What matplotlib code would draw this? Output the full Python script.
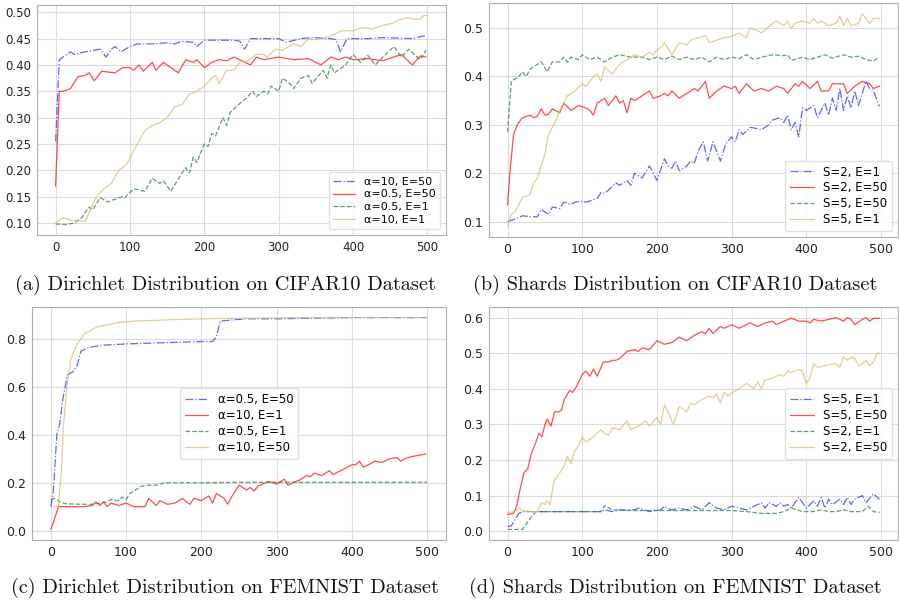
#
########################################################################
# Libraries
########################################################################
#
import matplotlib
matplotlib.use("Agg")
import matplotlib.pyplot as plt

#
########################################################################
# Data (epoch, accuracy)
########################################################################
#
# (a) Dirichlet / CIFAR10
A_Blue_X = [0, 5, 15, 20, 25, 40, 60, 68, 75, 80, 88, 100, 110, 130, 150, 160, 170, 185, 190, 200, 240, 248, 254, 262, 300, 310, 330, 345, 370, 377, 383, 392, 420, 440, 480, 498]
A_Blue_Y = [0.255, 0.41, 0.42, 0.425, 0.42, 0.425, 0.43, 0.415, 0.43, 0.435, 0.425, 0.435, 0.44, 0.44, 0.442, 0.44, 0.445, 0.443, 0.435, 0.447, 0.447, 0.445, 0.43, 0.45, 0.45, 0.443, 0.45, 0.452, 0.45, 0.448, 0.425, 0.45, 0.45, 0.452, 0.45, 0.456]

A_Red_X = [0, 5, 10, 20, 30, 40, 45, 52, 62, 80, 90, 100, 105, 112, 118, 130, 135, 145, 155, 165, 175, 185, 190, 200, 210, 220, 230, 240, 262, 270, 280, 300, 320, 340, 357, 370, 380, 390, 400, 420, 440, 465, 480, 490, 498]
A_Red_Y = [0.17, 0.35, 0.35, 0.355, 0.378, 0.38, 0.385, 0.37, 0.388, 0.385, 0.395, 0.395, 0.39, 0.40, 0.388, 0.405, 0.39, 0.405, 0.395, 0.385, 0.41, 0.405, 0.41, 0.395, 0.405, 0.41, 0.408, 0.415, 0.40, 0.415, 0.41, 0.415, 0.41, 0.412, 0.40, 0.415, 0.41, 0.415, 0.41, 0.412, 0.408, 0.42, 0.40, 0.417, 0.415]

A_Green_X = [0, 15, 25, 35, 45, 50, 60, 70, 80, 90, 93, 105, 120, 130, 140, 145, 155, 170, 175, 180, 185, 190, 200, 205, 210, 215, 225, 230, 235, 250, 255, 265, 270, 280, 285, 290, 300, 305, 315, 320, 330, 340, 345, 360, 365, 370, 375, 380, 390, 400, 410, 420, 430, 440, 455, 465, 475, 490, 498]
A_Green_Y = [0.098, 0.097, 0.10, 0.11, 0.13, 0.125, 0.148, 0.14, 0.145, 0.15, 0.148, 0.165, 0.16, 0.185, 0.175, 0.18, 0.16, 0.195, 0.205, 0.195, 0.225, 0.215, 0.25, 0.245, 0.27, 0.265, 0.30, 0.285, 0.31, 0.33, 0.335, 0.35, 0.34, 0.35, 0.345, 0.36, 0.35, 0.375, 0.365, 0.355, 0.375, 0.38, 0.365, 0.39, 0.375, 0.40, 0.385, 0.39, 0.40, 0.42, 0.405, 0.418, 0.40, 0.415, 0.435, 0.415, 0.43, 0.41, 0.428]

A_Yellow_X = [0, 5, 10, 20, 40, 45, 55, 65, 75, 85, 95, 110, 120, 130, 140, 150, 160, 170, 180, 190, 200, 210, 215, 220, 230, 240, 250, 255, 270, 280, 285, 295, 305, 320, 330, 340, 350, 370, 385, 400, 410, 420, 425, 440, 455, 460, 475, 480, 490, 495, 500]
A_Yellow_Y = [0.10, 0.105, 0.11, 0.105, 0.103, 0.12, 0.15, 0.165, 0.175, 0.20, 0.21, 0.25, 0.275, 0.285, 0.29, 0.30, 0.32, 0.325, 0.345, 0.35, 0.36, 0.375, 0.38, 0.365, 0.39, 0.39, 0.41, 0.405, 0.42, 0.42, 0.415, 0.43, 0.428, 0.44, 0.435, 0.45, 0.448, 0.455, 0.465, 0.465, 0.47, 0.47, 0.468, 0.475, 0.48, 0.485, 0.49, 0.487, 0.487, 0.494, 0.494]

# (b) Shards / CIFAR10
B_Blue_X = [0, 10, 20, 30, 40, 45, 50, 55, 60, 70, 75, 85, 90, 100, 105, 115, 120, 125, 130, 135, 145, 150, 160, 165, 170, 175, 180, 190, 200, 210, 215, 220, 225, 230, 240, 245, 250, 255, 262, 268, 275, 285, 292, 300, 305, 310, 315, 325, 340, 350, 355, 365, 370, 375, 380, 385, 390, 395, 400, 410, 415, 425, 430, 435, 440, 445, 450, 455, 460, 465, 470, 480, 485, 490, 498]
B_Blue_Y = [0.10, 0.105, 0.112, 0.11, 0.11, 0.125, 0.12, 0.115, 0.13, 0.127, 0.14, 0.135, 0.14, 0.142, 0.14, 0.145, 0.148, 0.16, 0.158, 0.165, 0.18, 0.175, 0.185, 0.175, 0.20, 0.195, 0.19, 0.215, 0.185, 0.23, 0.215, 0.21, 0.225, 0.205, 0.215, 0.225, 0.22, 0.245, 0.265, 0.225, 0.265, 0.225, 0.26, 0.275, 0.265, 0.29, 0.28, 0.295, 0.29, 0.30, 0.31, 0.315, 0.305, 0.32, 0.29, 0.305, 0.275, 0.335, 0.33, 0.34, 0.315, 0.345, 0.32, 0.355, 0.33, 0.375, 0.33, 0.36, 0.335, 0.37, 0.34, 0.39, 0.375, 0.37, 0.338]

B_Red_X = [0, 3, 8, 13, 20, 30, 35, 40, 45, 50, 55, 60, 70, 75, 85, 95, 105, 110, 115, 120, 130, 135, 145, 150, 155, 160, 165, 170, 180, 190, 195, 205, 210, 215, 220, 230, 240, 250, 255, 265, 270, 280, 290, 300, 305, 310, 320, 330, 340, 350, 360, 370, 375, 385, 390, 395, 405, 415, 420, 430, 435, 450, 455, 465, 475, 485, 490, 498]
B_Red_Y = [0.135, 0.20, 0.28, 0.30, 0.315, 0.32, 0.315, 0.318, 0.333, 0.32, 0.322, 0.333, 0.325, 0.345, 0.33, 0.34, 0.335, 0.33, 0.32, 0.345, 0.355, 0.34, 0.36, 0.345, 0.35, 0.325, 0.355, 0.35, 0.36, 0.37, 0.355, 0.36, 0.365, 0.36, 0.37, 0.355, 0.365, 0.375, 0.37, 0.39, 0.355, 0.37, 0.38, 0.375, 0.38, 0.365, 0.385, 0.37, 0.375, 0.37, 0.38, 0.375, 0.365, 0.385, 0.38, 0.39, 0.375, 0.39, 0.37, 0.37, 0.385, 0.385, 0.365, 0.38, 0.39, 0.385, 0.375, 0.38]

B_Green_X = [0, 5, 10, 15, 20, 25, 30, 40, 45, 53, 60, 70, 75, 80, 85, 95, 100, 110, 120, 130, 140, 150, 165, 180, 190, 200, 210, 220, 230, 240, 250, 260, 270, 280, 290, 300, 310, 320, 330, 340, 355, 370, 375, 380, 395, 405, 415, 425, 435, 450, 460, 470, 480, 490, 498]
B_Green_Y = [0.285, 0.39, 0.395, 0.40, 0.41, 0.40, 0.415, 0.425, 0.43, 0.41, 0.43, 0.43, 0.44, 0.43, 0.44, 0.435, 0.445, 0.435, 0.44, 0.43, 0.44, 0.445, 0.44, 0.44, 0.435, 0.44, 0.435, 0.442, 0.435, 0.44, 0.435, 0.44, 0.43, 0.44, 0.435, 0.44, 0.437, 0.445, 0.435, 0.44, 0.445, 0.443, 0.445, 0.433, 0.44, 0.435, 0.44, 0.445, 0.438, 0.445, 0.44, 0.442, 0.435, 0.432, 0.44]

B_Yellow_X = [0, 5, 10, 20, 30, 35, 40, 50, 55, 65, 70, 80, 90, 100, 105, 115, 120, 125, 130, 140, 150, 165, 170, 180, 190, 195, 200, 205, 210, 220, 230, 240, 245, 255, 265, 270, 280, 290, 300, 310, 320, 325, 335, 340, 355, 360, 370, 375, 380, 385, 395, 405, 410, 415, 420, 430, 440, 445, 450, 455, 460, 470, 475, 485, 490, 498]
B_Yellow_Y = [0.09, 0.115, 0.12, 0.15, 0.155, 0.18, 0.19, 0.24, 0.28, 0.31, 0.33, 0.36, 0.37, 0.385, 0.38, 0.40, 0.405, 0.39, 0.42, 0.405, 0.425, 0.44, 0.445, 0.44, 0.45, 0.445, 0.455, 0.46, 0.47, 0.445, 0.47, 0.465, 0.475, 0.48, 0.485, 0.47, 0.475, 0.48, 0.483, 0.49, 0.48, 0.50, 0.495, 0.49, 0.51, 0.515, 0.505, 0.515, 0.50, 0.51, 0.515, 0.51, 0.52, 0.51, 0.515, 0.505, 0.51, 0.525, 0.505, 0.52, 0.505, 0.51, 0.53, 0.51, 0.52, 0.52]

# (c) Dirichlet / FEMNIST
C_Blue_X = [0, 3, 8, 12, 16, 22, 30, 35, 40, 50, 70, 100, 150, 200, 215, 220, 225, 240, 260, 300, 400, 500]
C_Blue_Y = [0.10, 0.15, 0.40, 0.45, 0.55, 0.65, 0.665, 0.69, 0.75, 0.765, 0.775, 0.78, 0.785, 0.79, 0.79, 0.81, 0.875, 0.88, 0.885, 0.885, 0.89, 0.89]

C_Red_X = [0, 3, 10, 30, 45, 55, 60, 65, 70, 75, 80, 90, 100, 110, 125, 130, 140, 145, 155, 165, 175, 180, 185, 190, 200, 210, 215, 220, 230, 235, 240, 250, 260, 265, 270, 275, 285, 290, 300, 310, 315, 325, 330, 340, 345, 350, 360, 370, 375, 385, 400, 405, 410, 415, 425, 430, 440, 450, 460, 465, 470, 480, 490, 498]
C_Red_Y = [0.005, 0.03, 0.10, 0.10, 0.10, 0.105, 0.12, 0.105, 0.12, 0.10, 0.115, 0.105, 0.115, 0.10, 0.10, 0.135, 0.105, 0.125, 0.11, 0.115, 0.135, 0.12, 0.11, 0.135, 0.125, 0.145, 0.115, 0.155, 0.135, 0.11, 0.14, 0.19, 0.17, 0.18, 0.165, 0.185, 0.20, 0.205, 0.195, 0.215, 0.19, 0.205, 0.21, 0.23, 0.225, 0.24, 0.23, 0.25, 0.235, 0.25, 0.275, 0.275, 0.29, 0.265, 0.28, 0.29, 0.285, 0.30, 0.305, 0.29, 0.30, 0.31, 0.315, 0.32]

C_Green_X = [0, 5, 12, 20, 40, 55, 65, 75, 80, 90, 95, 100, 105, 110, 115, 120, 130, 140, 150, 170, 200, 250, 300, 400, 500]
C_Green_Y = [0.13, 0.135, 0.12, 0.112, 0.11, 0.11, 0.115, 0.12, 0.13, 0.125, 0.14, 0.13, 0.155, 0.165, 0.175, 0.185, 0.19, 0.19, 0.20, 0.20, 0.20, 0.202, 0.202, 0.202, 0.202]

C_Yellow_X = [0, 10, 14, 17, 22, 27, 35, 45, 50, 60, 75, 90, 110, 150, 200, 250, 350, 500]
C_Yellow_Y = [0.10, 0.10, 0.25, 0.45, 0.62, 0.72, 0.78, 0.825, 0.83, 0.85, 0.86, 0.87, 0.875, 0.88, 0.885, 0.887, 0.89, 0.89]

# (d) Shards / FEMNIST
D_Blue_X = [0, 5, 15, 20, 50, 100, 125, 130, 140, 150, 170, 175, 190, 205, 210, 220, 230, 240, 250, 260, 270, 280, 290, 300, 310, 320, 330, 340, 345, 350, 360, 365, 370, 375, 380, 390, 395, 400, 410, 415, 420, 425, 430, 435, 445, 450, 455, 460, 465, 475, 480, 490, 498]
D_Blue_Y = [0.013, 0.015, 0.05, 0.055, 0.055, 0.055, 0.055, 0.06, 0.055, 0.06, 0.06, 0.065, 0.055, 0.06, 0.07, 0.06, 0.065, 0.06, 0.07, 0.06, 0.08, 0.065, 0.06, 0.07, 0.065, 0.06, 0.07, 0.08, 0.065, 0.08, 0.07, 0.08, 0.07, 0.075, 0.065, 0.095, 0.08, 0.065, 0.085, 0.07, 0.095, 0.065, 0.09, 0.075, 0.09, 0.075, 0.095, 0.075, 0.09, 0.10, 0.08, 0.105, 0.09]

D_Red_X = [0, 8, 12, 17, 22, 27, 32, 37, 42, 46, 50, 53, 58, 63, 68, 72, 76, 83, 87, 92, 100, 105, 110, 115, 120, 128, 135, 140, 145, 150, 160, 170, 175, 180, 190, 200, 210, 220, 230, 240, 250, 260, 265, 270, 275, 285, 290, 300, 310, 320, 325, 335, 345, 355, 360, 370, 380, 390, 400, 405, 410, 420, 430, 440, 450, 455, 460, 465, 475, 480, 485, 490, 498]
D_Red_Y = [0.047, 0.05, 0.07, 0.12, 0.165, 0.175, 0.22, 0.245, 0.275, 0.265, 0.30, 0.315, 0.295, 0.335, 0.335, 0.34, 0.37, 0.395, 0.39, 0.405, 0.44, 0.45, 0.435, 0.455, 0.435, 0.475, 0.475, 0.48, 0.48, 0.485, 0.505, 0.51, 0.505, 0.515, 0.51, 0.535, 0.525, 0.53, 0.545, 0.535, 0.55, 0.56, 0.555, 0.57, 0.555, 0.575, 0.57, 0.58, 0.57, 0.58, 0.585, 0.575, 0.585, 0.59, 0.58, 0.59, 0.598, 0.59, 0.59, 0.585, 0.595, 0.59, 0.595, 0.60, 0.59, 0.60, 0.595, 0.58, 0.595, 0.60, 0.59, 0.598, 0.598]

D_Green_X = [0, 20, 30, 38, 100, 125, 130, 140, 160, 200, 250, 300, 320, 340, 360, 370, 380, 395, 410, 420, 430, 440, 450, 460, 475, 483, 490, 498]
D_Green_Y = [0.005, 0.005, 0.035, 0.055, 0.055, 0.055, 0.072, 0.06, 0.058, 0.058, 0.058, 0.058, 0.055, 0.05, 0.05, 0.055, 0.065, 0.055, 0.055, 0.06, 0.055, 0.055, 0.06, 0.055, 0.055, 0.07, 0.055, 0.053]

D_Yellow_X = [0, 10, 15, 20, 30, 40, 45, 50, 53, 57, 62, 67, 75, 80, 85, 90, 95, 100, 105, 115, 125, 130, 135, 140, 150, 160, 165, 175, 185, 190, 200, 205, 210, 215, 222, 230, 240, 245, 250, 260, 270, 275, 280, 285, 290, 295, 305, 310, 320, 330, 335, 340, 345, 355, 365, 370, 375, 380, 390, 395, 400, 405, 410, 415, 425, 435, 440, 445, 450, 455, 460, 465, 470, 475, 480, 485, 490, 495, 498]
D_Yellow_Y = [0.052, 0.055, 0.065, 0.058, 0.055, 0.055, 0.08, 0.075, 0.085, 0.075, 0.14, 0.155, 0.18, 0.21, 0.19, 0.225, 0.24, 0.265, 0.25, 0.265, 0.285, 0.275, 0.27, 0.29, 0.285, 0.31, 0.285, 0.295, 0.31, 0.295, 0.32, 0.30, 0.355, 0.335, 0.30, 0.35, 0.335, 0.36, 0.355, 0.37, 0.38, 0.375, 0.385, 0.36, 0.39, 0.38, 0.395, 0.40, 0.415, 0.40, 0.42, 0.40, 0.425, 0.43, 0.44, 0.435, 0.45, 0.445, 0.455, 0.45, 0.415, 0.43, 0.47, 0.46, 0.465, 0.47, 0.47, 0.46, 0.49, 0.48, 0.49, 0.485, 0.465, 0.47, 0.48, 0.465, 0.475, 0.50, 0.50]

Legendas_A = ["α=10, E=50", "α=0.5, E=50", "α=0.5, E=1", "α=10, E=1"]
Legendas_B = ["S=2, E=1", "S=2, E=50", "S=5, E=50", "S=5, E=1"]
Legendas_C = ["α=0.5, E=50", "α=10, E=1", "α=0.5, E=1", "α=10, E=50"]
Legendas_D = ["S=5, E=1", "S=5, E=50", "S=2, E=1", "S=2, E=50"]

Titulos = ["(a) Dirichlet Distribution on CIFAR10 Dataset",
           "(b) Shards Distribution on CIFAR10 Dataset",
           "(c) Dirichlet Distribution on FEMNIST Dataset",
           "(d) Shards Distribution on FEMNIST Dataset"]

#
########################################################################
# Styles
########################################################################
#
Azul = dict(color="#3030ff", ls="-.", lw=0.9, alpha=0.75)
Vermelho = dict(color="#ff2020", ls="-", lw=0.9, alpha=0.8)
Verde = dict(color="#2e7d45", ls="--", lw=0.9, alpha=0.75)
Amarelo = dict(color="#d8be70", ls="-", lw=0.9, alpha=0.75)


def Desenha(ax, series, rotulos, loc, fonte, fonteLeg):
    estilos = [Azul, Vermelho, Verde, Amarelo]
    for (x, y), est, rot in zip(series, estilos, rotulos):
        ax.plot(x, y, label=rot, **est)
    ax.grid(True, color="#dcdcdc", lw=0.8)
    ax.set_axisbelow(True)
    for s in ax.spines.values():
        s.set_color("#b0b0b0")
        s.set_linewidth(0.8)
    ax.tick_params(length=0, pad=4, labelsize=fonte, colors="#222222")
    ax.legend(loc=loc, fontsize=fonteLeg, framealpha=0.9, edgecolor="#dddddd",
              fancybox=True, handlelength=2.0, labelspacing=0.25,
              borderpad=0.4)


#
########################################################################
# Figure
########################################################################
#
Grafico = plt.figure(figsize=(8.99, 6.04), dpi=100)
W, H = 899.0, 604.0

def Eixo(x0, y0, x1, y1):
    return Grafico.add_axes([x0 / W, 1 - y1 / H, (x1 - x0) / W, (y1 - y0) / H])

axA = Eixo(37, 5, 446, 235)
axB = Eixo(489, 3, 898, 237)
axC = Eixo(32, 307, 446, 540)
axD = Eixo(489, 307, 898, 540)

Desenha(axA, [(A_Blue_X, A_Blue_Y), (A_Red_X, A_Red_Y), (A_Green_X, A_Green_Y), (A_Yellow_X, A_Yellow_Y)],
        Legendas_A, "lower right", 8.5, 8)
Desenha(axB, [(B_Blue_X, B_Blue_Y), (B_Red_X, B_Red_Y), (B_Green_X, B_Green_Y), (B_Yellow_X, B_Yellow_Y)],
        Legendas_B, "lower right", 9, 8.5)
Desenha(axC, [(C_Blue_X, C_Blue_Y), (C_Red_X, C_Red_Y), (C_Green_X, C_Green_Y), (C_Yellow_X, C_Yellow_Y)],
        Legendas_C, "center", 9, 8.5)
Desenha(axD, [(D_Blue_X, D_Blue_Y), (D_Red_X, D_Red_Y), (D_Green_X, D_Green_Y), (D_Yellow_X, D_Yellow_Y)],
        Legendas_D, "center right", 9, 8.5)

axA.set_yticks([0.10, 0.15, 0.20, 0.25, 0.30, 0.35, 0.40, 0.45, 0.50])
axA.yaxis.set_major_formatter(matplotlib.ticker.FormatStrFormatter("%.2f"))
axB.set_yticks([0.1, 0.2, 0.3, 0.4, 0.5])
axC.set_yticks([0.0, 0.2, 0.4, 0.6, 0.8])
axD.set_yticks([0.0, 0.1, 0.2, 0.3, 0.4, 0.5, 0.6])

# Captions
Posicoes = [(225, 285), (675, 285), (225, 588), (675, 588)]
for (px, py), t in zip(Posicoes, Titulos):
    Grafico.text(px / W, 1 - py / H, t, ha="center", va="center",
                 family="cmr10", fontsize=14.6, color="#111111")

Grafico.savefig("out.png", dpi=100)
